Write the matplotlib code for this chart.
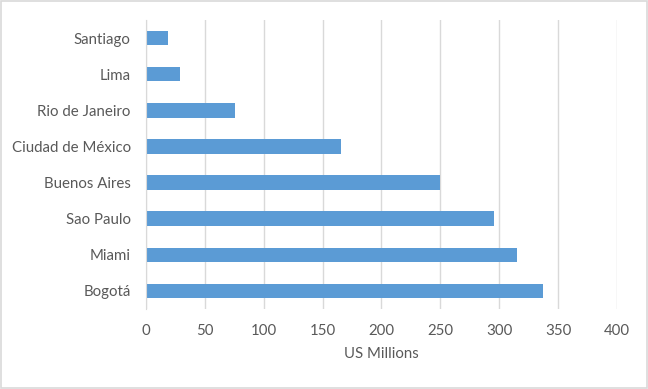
import matplotlib
matplotlib.use("Agg")
import matplotlib.pyplot as plt
from matplotlib.patches import Rectangle

# Data (US Millions)
cities = ["Santiago", "Lima", "Rio de Janeiro", "Ciudad de México",
          "Buenos Aires", "Sao Paulo", "Miami", "Bogotá"]
values = [19, 29, 76, 166, 250, 296, 315, 337]
x_ticks = [0, 50, 100, 150, 200, 250, 300, 350, 400]

plt.rcParams["font.family"] = ["Lato", "DejaVu Sans"]
text_color = "#595959"
grid_color = "#D9D9D9"

fig = plt.figure(figsize=(6.48, 3.89), dpi=100)
ax = fig.add_axes([0.2253, 0.2057, 0.7267, 0.7429])

# reversed so Santiago ends up on top
y = list(range(len(cities)))[::-1]
ax.barh(y, values, height=0.4, color="#5B9BD5", zorder=3)

ax.set_xlim(0, 400)
ax.set_ylim(-0.5, len(cities) - 0.5)
ax.set_xticks(x_ticks)
ax.set_yticks(y)
ax.set_yticklabels(cities)
ax.grid(axis="x", color=grid_color, linewidth=1, zorder=0)

for side in ["top", "right", "bottom"]:
    ax.spines[side].set_visible(False)
ax.spines["left"].set_color(grid_color)
ax.spines["left"].set_zorder(4)

ax.tick_params(axis="both", length=0, labelsize=10.8, colors=text_color)
ax.tick_params(axis="x", pad=11)
ax.tick_params(axis="y", pad=11)
ax.set_xlabel("US Millions", color=text_color, fontsize=10.8, labelpad=6)

# light frame around the whole chart
fig.patches.append(Rectangle((0.002, 0.003), 0.996, 0.994, transform=fig.transFigure,
                             fill=False, edgecolor=grid_color, linewidth=1.2))

plt.savefig("out.png", dpi=100)
